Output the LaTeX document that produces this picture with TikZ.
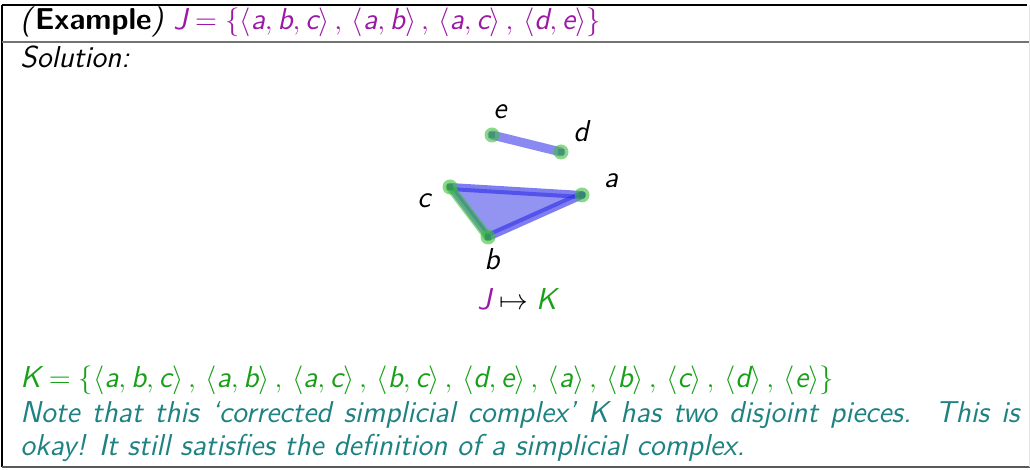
\documentclass[tikz,border=0pt]{standalone}
\usetikzlibrary{calc}
\DeclareMathAlphabet{\mathsfit}{TU}{lmss}{m}{sl}
\newcommand\sv[1]{\mathsfit{#1}}
\newcommand\sep{\rangle\,,\,\langle}
\definecolor{jcol}{RGB}{155,25,165}
\definecolor{kcol}{RGB}{25,160,25}
\definecolor{notecol}{RGB}{30,130,130}
\definecolor{simpblue}{RGB}{40,40,230}
\definecolor{simpgreen}{RGB}{60,190,60}
\tikzset{
  txt/.style={anchor=base west, inner sep=0pt, font=\sffamily\fontsize{15.1}{16}\selectfont},
  lbl/.style={inner sep=0pt, font=\sffamily\fontsize{15.1}{16}\selectfont},
  edgeblue/.style={draw=simpblue, line width=4pt, opacity=0.6, line cap=round},
  edgegreen/.style={draw=simpgreen, line width=4.5pt, opacity=0.6, line cap=round},
  vtx/.style={circle, fill=simpgreen, opacity=0.6, minimum size=7.5pt, inner sep=0pt},
}
\begin{document}
\begin{tikzpicture}[x=0.5pt,y=-0.5pt]
\useasboundingbox (0,0) rectangle (1030,470);
% frame
\draw[black, line width=0.8pt] (2,5) -- (1027,5);
\draw[black, line width=0.8pt] (2,5) -- (2,467);
\draw[black!55, line width=1pt] (2,42) -- (1030,42);
\draw[black!65, line width=1pt] (2,467) -- (1030,467);
\draw[black!10, line width=0.5pt] (1029,5) -- (1029,467);
% header
\node[txt] (head) at (20,30) {\textit{(}\textbf{Example}\textit{)} \color{jcol}$\sv{J}=\{\langle \sv{a},\sv{b},\sv{c}\sep \sv{a},\sv{b}\sep \sv{a},\sv{c}\sep \sv{d},\sv{e}\rangle\}$};
\node[txt] (sol) at (20,68) {\textit{Solution:}};
% coordinates of vertices
\coordinate (a) at (582,195);
\coordinate (b) at (488,237);
\coordinate (c) at (450,187);
\coordinate (d) at (561,152);
\coordinate (e) at (492,135);
% simplices
\fill[simpblue, opacity=0.5] (a) -- (b) -- (c) -- cycle;
\draw[edgeblue] (a) -- (c);
\draw[edgeblue] (a) -- (b);
\draw[simpblue, line width=3pt, opacity=0.5, line cap=round] (c) -- (b);
\draw[edgegreen] (c) -- (b);
\draw[simpblue, line width=4.5pt, opacity=0.55, line cap=round] (e) -- (d);
\foreach \v in {a,b,c,d,e}{
  \fill[simpblue!70!black, opacity=0.5] ($(\v)+(-3,-3)$) rectangle ($(\v)+(3,3)$);
  \node[vtx] at (\v) {};
}
% labels
\node[lbl] (la) at (611,181) {$\sv{a}$};
\node[lbl] (lb) at (492,259) {$\sv{b}$};
\node[lbl] (lc) at (424,201) {$\sv{c}$};
\node[lbl] (ld) at (581,131) {$\sv{d}$};
\node[lbl] (le) at (500,112) {$\sv{e}$};
\node[lbl, anchor=base] (map) at (517,310) {$\color{jcol}\sv{J}\color{black}\mapsto\color{kcol}\sv{K}$};
% bottom texts
\node[txt, text=kcol] (kset) at (20,388) {$\sv{K}=\{\langle \sv{a},\sv{b},\sv{c}\sep \sv{a},\sv{b}\sep \sv{a},\sv{c}\sep \sv{b},\sv{c}\sep \sv{d},\sv{e}\sep \sv{a}\sep \sv{b}\sep \sv{c}\sep \sv{d}\sep \sv{e}\rangle\}$};
\node[txt, text=notecol, anchor=base west, text width=499.5pt, align=justify] (note) at (20,423) {\fontsize{15.1}{16.2}\selectfont\itshape Note that this `corrected simplicial complex' $\sv{K}$ has two disjoint pieces.\ \ This is\linebreak okay! It still satisfies the definition of a simplicial complex.\par};
\end{tikzpicture}
\end{document}
